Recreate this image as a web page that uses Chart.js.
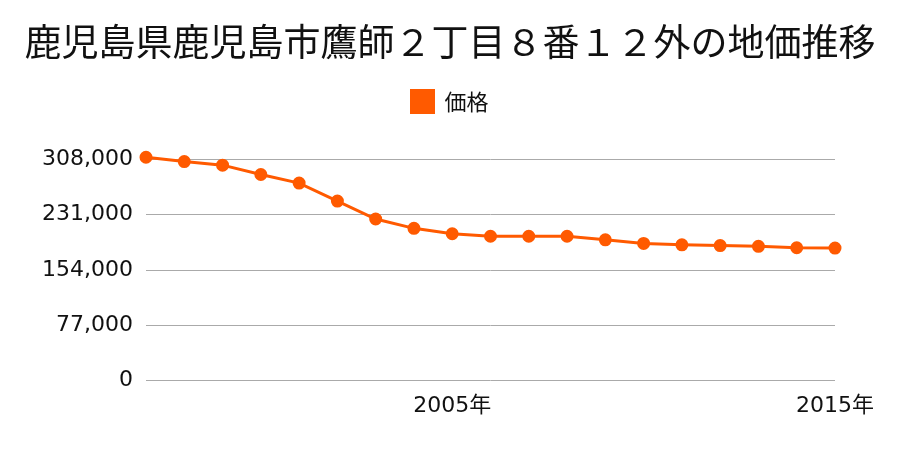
<!DOCTYPE html>
<html>
<head>
<meta charset="utf-8">
<script src="https://cdn.jsdelivr.net/npm/chart.js@4"></script>
<style>
  body { margin: 0; background: #fff; }
  #wrap { width: 900px; height: 450px; }
</style>
</head>
<body>
<div id="wrap"><canvas id="chart"></canvas></div>
<script>
// data
const years = ['1997', '1998', '1999', '2000', '2001', '2002', '2003', '2004', '2005', '2006',
    '2007', '2008', '2009', '2010', '2011', '2012', '2013', '2014', '2015'];
const prices = [311000, 305000, 300000, 287000, 275000, 250000, 225000, 212000, 204500, 201000,
    201000, 201000, 196000, 191000, 189000, 188000, 187000, 185000, 184500];
const shownYears = ['2005', '2015'];
const yTicks = [0, 77000, 154000, 231000, 308000];

const fontName = '"Noto Sans CJK JP", "Noto Sans", sans-serif';
const tickFont = '"DejaVu Sans", "Noto Sans CJK JP", sans-serif';
const orange = '#ff5a00';

// push the plot down a bit below the legend
const legendGap = {
    id: 'legendGap',
    beforeInit(chart) {
        const fit = chart.legend.fit;
        chart.legend.fit = function () {
            fit.bind(chart.legend)();
            this.height += 37;
        };
    }
};

let ctx = document.getElementById('chart').getContext('2d');

new Chart(ctx, {
    type: 'line',
    data: {
        labels: years,
        datasets: [{
            label: '価格',
            data: prices,
            yAxisID: 'y',
            borderColor: orange,
            backgroundColor: orange,
            borderWidth: 3,
            pointRadius: 5,
            pointHoverRadius: 5,
            tension: 0,
            clip: false
        }]
    },
    options: {
        responsive: true,
        maintainAspectRatio: false,
        animation: false,
        layout: { padding: { left: 0, right: 0, top: 0, bottom: 27 } },
        plugins: {
            title: {
                display: true,
                text: '鹿児島県鹿児島市鷹師２丁目８番１２外の地価推移',
                color: '#111',
                font: { family: fontName, size: 37, weight: 'normal' },
                padding: { top: 20, bottom: 16 }
            },
            legend: {
                labels: {
                    color: '#111',
                    font: { family: fontName, size: 22 },
                    boxWidth: 22,
                    boxHeight: 22,
                    padding: 10
                }
            },
            tooltip: { enabled: false }
        },
        scales: {
            x: {
                offset: false,
                grid: { display: false },
                border: { display: false },
                ticks: {
                    color: '#111',
                    padding: 4,
                    font: { family: tickFont, size: 22 },
                    autoSkip: false,
                    maxRotation: 0,
                    callback: function (value) {
                        let y = years[value];
                        return shownYears.includes(y) ? y + '年' : '';
                    }
                }
            },
            y: {
                min: 0,
                max: 308000,
                border: { display: false },
                grid: { color: '#aaa', lineWidth: 1, drawTicks: false },
                afterBuildTicks: function (axis) {
                    axis.ticks = yTicks.map(v => ({ value: v }));
                },
                afterFit: function (axis) {
                    axis.width = 146;
                },
                ticks: {
                    color: '#111',
                    padding: 13,
                    font: { family: tickFont, size: 22 },
                    callback: v => v.toLocaleString('en-US')
                }
            },
            // empty axis that only keeps space on the right
            yRight: {
                position: 'right',
                grid: { display: false },
                border: { display: false },
                ticks: { display: false },
                afterFit: function (axis) {
                    axis.width = 65;
                }
            }
        }
    },
    plugins: [legendGap]
});
</script>
</body>
</html>
